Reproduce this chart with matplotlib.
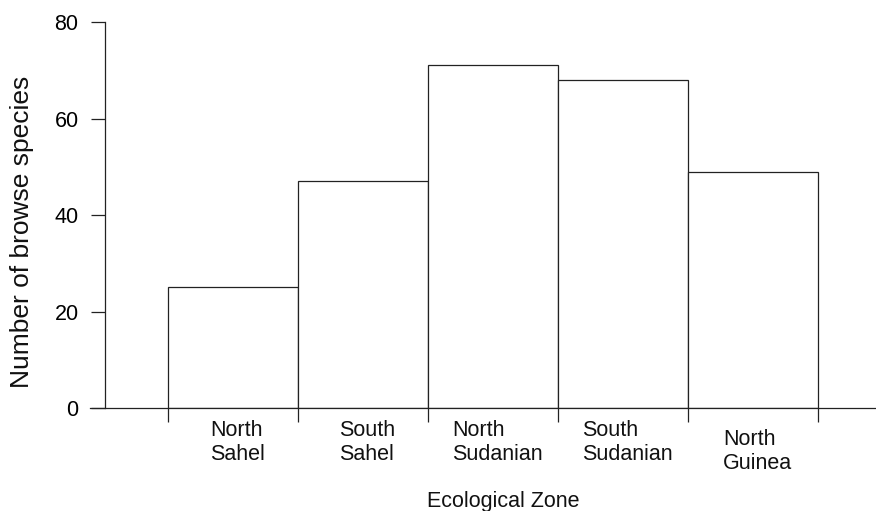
import numpy as np
import matplotlib.pyplot as plt
from matplotlib.transforms import blended_transform_factory

plt.rcParams['font.family'] = ['Liberation Sans', 'DejaVu Sans']

zones = ["North\nSahel", "South\nSahel", "North\nSudanian", "South\nSudanian", "North\nGuinea"]
n_species = [25, 47, 71, 68, 49]
label_drop = [0, 0, 0, 0, 1]  # North Guinea label sits a bit lower

fig = plt.figure(figsize=(8.76, 5.11), dpi=100)
ax = fig.add_axes([90 / 876, (511 - 408) / 511, 786 / 876, (408 - 22) / 511])

x = np.arange(len(zones))
ax.bar(x, n_species, width=1.0, color="white", edgecolor="#222222", linewidth=0.9)

ax.set_xlim(-1.1, 4.946)
ax.set_ylim(0, 80)

ax.spines[['top', 'right']].set_visible(False)
ax.spines['left'].set_position(('data', -0.985))
for s in ['left', 'bottom']:
    ax.spines[s].set_linewidth(0.9)
    ax.spines[s].set_color("#222222")

ax.set_yticks([0, 20, 40, 60, 80])
ax.tick_params(axis='y', length=10, width=0.9, pad=9, labelsize=15.5, color="#222222")
edges = np.arange(len(zones) + 1) - 0.5
ax.set_xticks(edges)
ax.set_xticklabels([])
ax.tick_params(axis='x', length=10, width=0.9, color="#222222")

trans = blended_transform_factory(ax.transData, ax.transAxes)
for xi, lab, d in zip(x, zones, label_drop):
    ax.text(xi + 0.035, -0.03 - 0.024 * d, lab, transform=trans, ha='center', va='top',
            multialignment='left', fontsize=15.5, linespacing=1.2, color="#111111")

fig.text(503 / 876, 1 - 502 / 511, "Ecological Zone", ha='center', va='center',
         fontsize=15.5, color="#111111")
fig.text(22 / 876, 1 - 232 / 511, "Number of browse species", ha='center', va='center',
         rotation=90, fontsize=19, color="#111111")

fig.savefig("out.png", dpi=100)
